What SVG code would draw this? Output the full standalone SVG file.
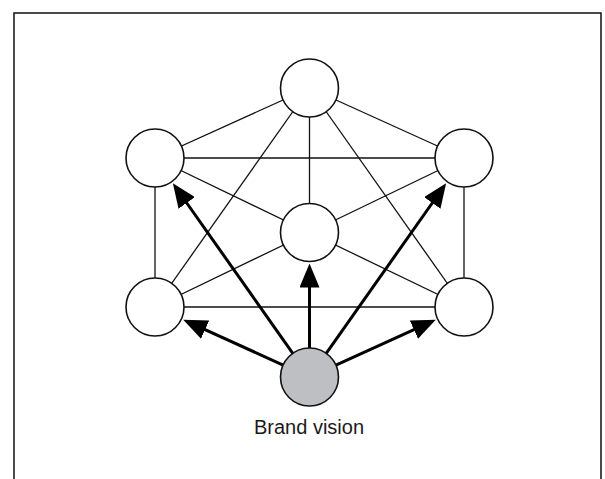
<svg xmlns="http://www.w3.org/2000/svg" width="605" height="479" viewBox="0 0 605 479">
  <style>
    .thin { stroke: #111; stroke-width: 1.3; fill: none; }
    .thick { stroke: #000; stroke-width: 3; fill: none; marker-end: url(#ah); }
    .node { fill: #fff; stroke: #111; stroke-width: 1.6; }
    .brand { fill: #bdbfc3; stroke: #111; stroke-width: 1.6; }
    .label { font-family: "Liberation Sans", Arial, sans-serif; font-size: 20px; fill: #1a1a1a; }
  </style>
  <defs>
    <marker id="ah" markerUnits="userSpaceOnUse" markerWidth="24" markerHeight="20" refX="14" refY="10" orient="auto">
      <path d="M0,0 L24,10 L0,20 Z" fill="#000"/>
    </marker>
  </defs>
  <rect x="0" y="0" width="605" height="479" fill="#fff"/>
  <path d="M14,480 L14,13 L601,13 L601,480" fill="none" stroke="#111" stroke-width="1.5"/>

  <g id="connectors">
    <g id="links">
      <line class="thin" x1="309.5" y1="88" x2="155" y2="158"/>
      <line class="thin" x1="309.5" y1="88" x2="464" y2="158"/>
      <line class="thin" x1="309.5" y1="88" x2="309.5" y2="232.5"/>
      <line class="thin" x1="309.5" y1="88" x2="155" y2="307"/>
      <line class="thin" x1="309.5" y1="88" x2="464" y2="307"/>
      <line class="thin" x1="155" y1="158" x2="464" y2="158"/>
      <line class="thin" x1="155" y1="158" x2="309.5" y2="232.5"/>
      <line class="thin" x1="155" y1="158" x2="155" y2="307"/>
      <line class="thin" x1="464" y1="158" x2="309.5" y2="232.5"/>
      <line class="thin" x1="464" y1="158" x2="464" y2="307"/>
      <line class="thin" x1="309.5" y1="232.5" x2="155" y2="307"/>
      <line class="thin" x1="309.5" y1="232.5" x2="464" y2="307"/>
      <line class="thin" x1="155" y1="307" x2="464" y2="307"/>
    </g>
  </g>

  <g id="n-top"><circle class="node" cx="309.5" cy="88" r="29"/></g>
  <g id="n-upper-left"><circle class="node" cx="155" cy="158" r="29"/></g>
  <g id="n-upper-right"><circle class="node" cx="464" cy="158" r="29"/></g>
  <g id="n-middle"><circle class="node" cx="309.5" cy="232.5" r="29"/></g>
  <g id="n-lower-left"><circle class="node" cx="155" cy="307" r="29"/></g>
  <g id="n-lower-right"><circle class="node" cx="464" cy="307" r="29"/></g>

  <g id="arrows">
    <line class="thick" x1="283.08" y1="365.03" x2="192.35" y2="323.92"/>
    <line class="thick" x1="335.92" y1="365.03" x2="426.65" y2="323.92"/>
    <line class="thick" x1="292.78" y1="353.3" x2="178.64" y2="191.5"/>
    <line class="thick" x1="326.22" y1="353.3" x2="440.36" y2="191.5"/>
    <line class="thick" x1="309.5" y1="348" x2="309.5" y2="273.5"/>
  </g>

  <g id="n-brand">
    <circle class="brand" cx="309.5" cy="377" r="29"/>
    <text class="label" x="309" y="434" text-anchor="middle">Brand vision</text>
  </g>
</svg>
